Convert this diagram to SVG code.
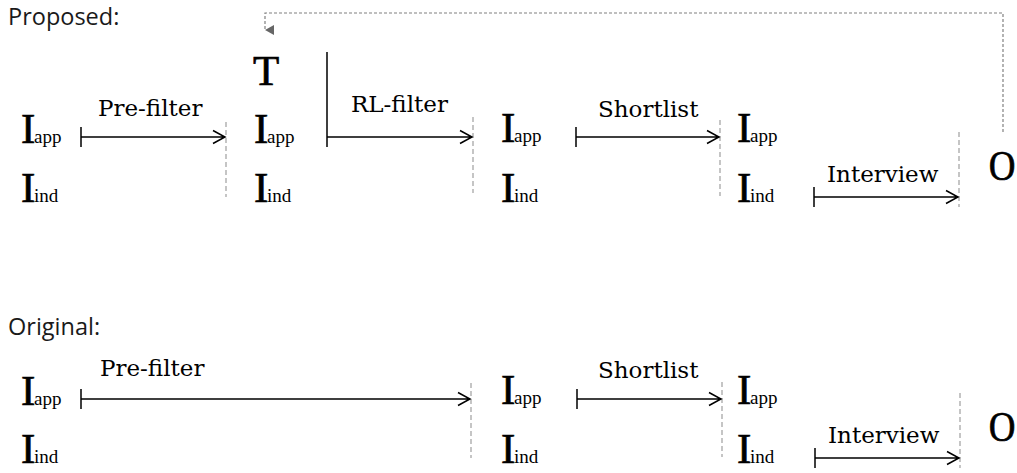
<svg xmlns="http://www.w3.org/2000/svg" width="1017" height="473" viewBox="0 0 1017 473">
<style>
.title{font-family:"Open Sans","Noto Sans",sans-serif;font-size:23.5px;fill:#1a1a1a}
.big{font-family:"Liberation Serif",serif;font-size:43px;fill:#000;stroke:#000;stroke-width:0.7}
.sub{font-family:"Liberation Serif",serif;font-size:19px;stroke:none}
.lbl{font-family:"DejaVu Serif",serif;font-size:23px;fill:#000}
.arr{stroke:#000;stroke-width:1.5;fill:none}
.sep{stroke:#b3b3b3;stroke-width:1.5;stroke-dasharray:5 3;fill:none}
.fb{stroke:#808080;stroke-width:1.2;stroke-dasharray:3 2;fill:none}
</style>
<defs>
<marker id="fbhead" markerWidth="10" markerHeight="10" refX="5" refY="9" orient="auto-start-reverse" markerUnits="userSpaceOnUse" viewBox="0 0 10 10">
<path d="M0,0 L10,0 L5,9 Z" fill="#666"/>
</marker>
</defs>

<text class="title" x="8" y="25">Proposed:</text>
<text class="title" x="8" y="335">Original:</text>

<g id="connectors">
<line class="sep" x1="226" y1="122" x2="226" y2="197"/>
<line class="sep" x1="473" y1="117" x2="473" y2="193"/>
<line class="sep" x1="720" y1="120" x2="720" y2="196"/>
<line class="sep" x1="959" y1="132" x2="959" y2="207"/>
<line class="sep" x1="471" y1="383" x2="471" y2="458"/>
<line class="sep" x1="722" y1="382" x2="722" y2="457"/>
<line class="sep" x1="960" y1="393" x2="960" y2="468"/>

<g id="p-prefilter">
<path class="arr" d="M81,127 V147 M81,137 H225 M213,130.5 L225,137 L213,143.5"/>
<text class="lbl" x="98" y="116">Pre-filter</text>
</g>
<g id="p-rlfilter">
<path class="arr" d="M327,52 V147 M327,137 H472 M460,130.5 L472,137 L460,143.5"/>
<text class="lbl" x="351" y="112">RL-filter</text>
</g>
<g id="p-shortlist">
<path class="arr" d="M576,127 V147 M576,137 H719 M707,130.5 L719,137 L707,143.5"/>
<text class="lbl" x="598" y="117">Shortlist</text>
</g>
<g id="p-interview">
<path class="arr" d="M814,187 V207 M814,197 H958 M946,190.5 L958,197 L946,203.5"/>
<text class="lbl" x="827" y="182">Interview</text>
</g>
<path class="fb" d="M1003,132 V13 H265 V30" marker-end="url(#fbhead)"/>

<g id="o-prefilter">
<path class="arr" d="M81,389 V409 M81,399 H470 M458,392.5 L470,399 L458,405.5"/>
<text class="lbl" x="100" y="376">Pre-filter</text>
</g>
<g id="o-shortlist">
<path class="arr" d="M577,389 V409 M577,399 H721 M709,392.5 L721,399 L709,405.5"/>
<text class="lbl" x="598" y="378">Shortlist</text>
</g>
<g id="o-interview">
<path class="arr" d="M815,448 V468 M815,458 H959 M947,451.5 L959,458 L947,464.5"/>
<text class="lbl" x="828" y="443">Interview</text>
</g>
</g>

<g id="p-col1">
<text class="big" x="21" y="143">I<tspan class="sub" x="34">app</tspan></text>
<text class="big" x="21" y="202">I<tspan class="sub" x="34">ind</tspan></text>
</g>
<g id="p-col2">
<text class="big" x="253" y="85">T</text>
<text class="big" x="254" y="143">I<tspan class="sub" x="267">app</tspan></text>
<text class="big" x="254" y="202">I<tspan class="sub" x="267">ind</tspan></text>
</g>
<g id="p-col3">
<text class="big" x="501" y="142">I<tspan class="sub" x="514">app</tspan></text>
<text class="big" x="501" y="202">I<tspan class="sub" x="514">ind</tspan></text>
</g>
<g id="p-col4">
<text class="big" x="737" y="142">I<tspan class="sub" x="750">app</tspan></text>
<text class="big" x="737" y="202">I<tspan class="sub" x="750">ind</tspan></text>
</g>
<g id="p-out">
<text class="big" transform="translate(1002,180) scale(0.86,1)" text-anchor="middle">O</text>
</g>

<g id="o-col1">
<text class="big" x="21" y="405">I<tspan class="sub" x="34">app</tspan></text>
<text class="big" x="21" y="463">I<tspan class="sub" x="34">ind</tspan></text>
</g>
<g id="o-col3">
<text class="big" x="501" y="404">I<tspan class="sub" x="514">app</tspan></text>
<text class="big" x="501" y="463">I<tspan class="sub" x="514">ind</tspan></text>
</g>
<g id="o-col4">
<text class="big" x="737" y="404">I<tspan class="sub" x="750">app</tspan></text>
<text class="big" x="737" y="463">I<tspan class="sub" x="750">ind</tspan></text>
</g>
<g id="o-out">
<text class="big" transform="translate(1002,441) scale(0.86,1)" text-anchor="middle">O</text>
</g>
</svg>
